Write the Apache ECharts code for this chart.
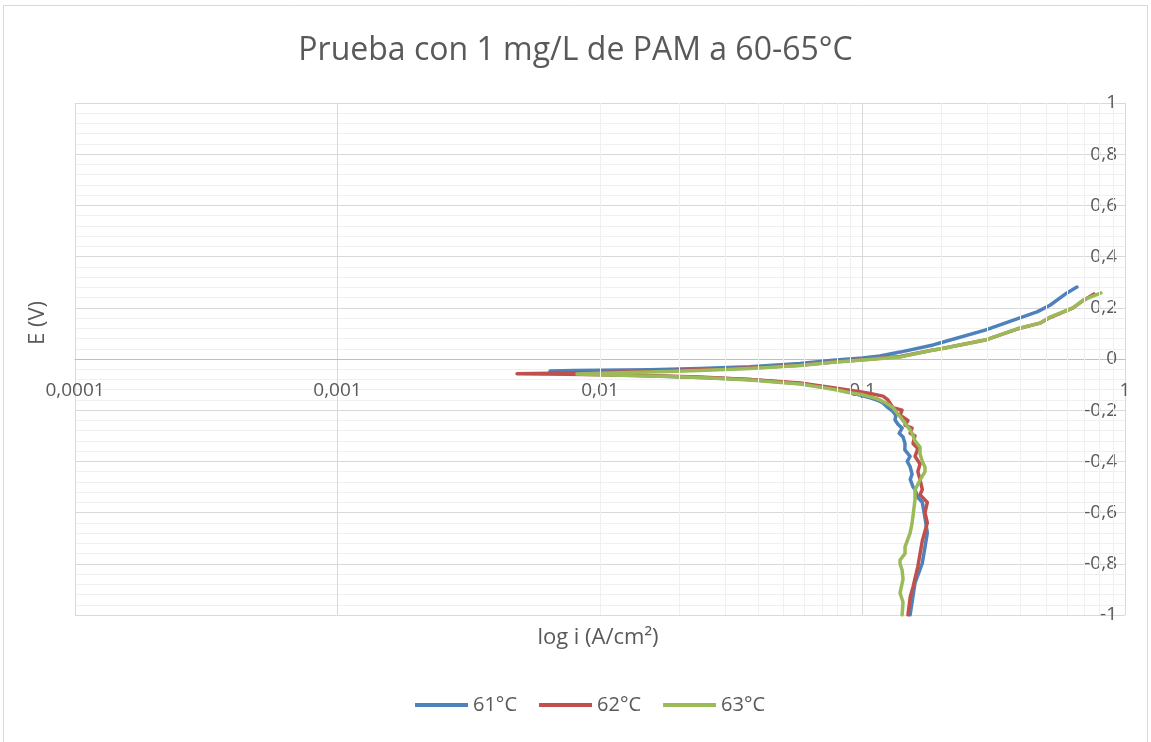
<!DOCTYPE html>
<html>
<head>
<meta charset="utf-8">
<title>Prueba con 1 mg/L de PAM</title>
<style>
    * { margin: 0; padding: 0; }
    #main { width: 1151px; height: 742px; background: #fff; }
</style>
</head>
<body>
<div id="main"></div>
<script src="https://cdn.jsdelivr.net/npm/echarts@6/dist/echarts.min.js"></script>
<script>
    // [i (A/cm2), E (V)], from E = -1 up through Ecorr to the anodic end
    var s61 = [
        [0.1518, -1.0], [0.1545, -0.95], [0.1585, -0.875], [0.169, -0.797], [0.1766, -0.68],
        [0.173, -0.62], [0.169, -0.56], [0.1625, -0.54], [0.1585, -0.51], [0.1558, -0.5],
        [0.152, -0.47], [0.1545, -0.45], [0.1518, -0.42], [0.148, -0.40], [0.1518, -0.38],
        [0.145, -0.355], [0.1452, -0.33], [0.1427, -0.305], [0.138, -0.29], [0.1415, -0.27],
        [0.1365, -0.255], [0.133, -0.238], [0.134, -0.22], [0.1306, -0.205], [0.125, -0.19],
        [0.1197, -0.172], [0.1135, -0.16], [0.107, -0.152], [0.0977, -0.141], [0.0895, -0.13],
        [0.0773, -0.115], [0.0578, -0.096], [0.0485, -0.09], [0.0372, -0.08], [0.024, -0.072],
        [0.0155, -0.065], [0.010, -0.058], [0.0075, -0.052], [0.00645, -0.047], [0.008, -0.045],
        [0.0155, -0.042], [0.024, -0.037], [0.0372, -0.030], [0.0578, -0.018], [0.0773, -0.005],
        [0.1, 0.004], [0.1165, 0.012], [0.139, 0.027], [0.1858, 0.055], [0.197, 0.0625],
        [0.293, 0.113], [0.462, 0.184], [0.518, 0.21], [0.601, 0.258], [0.656, 0.281]
    ];
    var s62 = [
        [0.149, -1.0], [0.152, -0.93], [0.1558, -0.89], [0.1625, -0.81], [0.169, -0.71],
        [0.1766, -0.64], [0.173, -0.6], [0.1766, -0.56], [0.1656, -0.53], [0.169, -0.51],
        [0.1656, -0.47], [0.1625, -0.44], [0.1656, -0.41], [0.1585, -0.38], [0.1625, -0.35],
        [0.1558, -0.33], [0.1585, -0.30], [0.1518, -0.29], [0.1545, -0.27], [0.1452, -0.258],
        [0.149, -0.24], [0.139, -0.22], [0.1415, -0.2], [0.1306, -0.19], [0.125, -0.16],
        [0.1197, -0.145], [0.107, -0.135], [0.0977, -0.128], [0.0773, -0.112], [0.0578, -0.094],
        [0.0372, -0.08], [0.024, -0.07], [0.0155, -0.065], [0.010, -0.062], [0.0075, -0.06],
        [0.00483, -0.058], [0.0065, -0.056], [0.010, -0.053], [0.0155, -0.048], [0.024, -0.042],
        [0.0372, -0.035], [0.0578, -0.024], [0.0773, -0.012], [0.1, -0.003], [0.139, 0.01],
        [0.1858, 0.035], [0.197, 0.039], [0.293, 0.074], [0.388, 0.117], [0.474, 0.14],
        [0.518, 0.162], [0.634, 0.2], [0.692, 0.228], [0.762, 0.254]
    ];
    var s63 = [
        [0.1415, -1.0], [0.1427, -0.95], [0.139, -0.914], [0.1427, -0.86], [0.1415, -0.824],
        [0.139, -0.80], [0.139, -0.785], [0.1452, -0.76], [0.1452, -0.734], [0.1518, -0.68],
        [0.1545, -0.641], [0.1585, -0.55], [0.1585, -0.51], [0.1625, -0.49], [0.1656, -0.473],
        [0.173, -0.44], [0.173, -0.422], [0.169, -0.40], [0.1656, -0.37], [0.1656, -0.344],
        [0.1585, -0.32], [0.1545, -0.29], [0.1518, -0.277], [0.145, -0.25], [0.139, -0.225],
        [0.1306, -0.19], [0.123, -0.172], [0.1135, -0.155], [0.1, -0.14], [0.0895, -0.132],
        [0.0773, -0.118], [0.0578, -0.098], [0.0372, -0.082], [0.024, -0.072], [0.0155, -0.066],
        [0.010, -0.062], [0.00817, -0.059], [0.010, -0.056], [0.0155, -0.051], [0.024, -0.045],
        [0.0372, -0.037], [0.0578, -0.025], [0.0773, -0.013], [0.1, -0.004], [0.139, 0.008],
        [0.1858, 0.035], [0.197, 0.039], [0.293, 0.074], [0.388, 0.118], [0.474, 0.14],
        [0.518, 0.164], [0.634, 0.2], [0.692, 0.23], [0.81, 0.258]
    ];
    var seriesNames = ['61°C', '62°C', '63°C'];
    var seriesColors = ['#4F81BD', '#C0504D', '#9BBB59'];
    var xTickLabels = ['0,0001', '0,001', '0,01', '0,1', '1'];

    var textColor = '#595959';
    var font = '"Open Sans", "Noto Sans", sans-serif';

    // minor vertical grid lines at 2..9 of each decade (log axis)
    var minorX = [];
    for (var d = -4; d < 0; d++) {
        for (var k = 2; k <= 9; k++) {
            minorX.push({ xAxis: k * Math.pow(10, d) });
        }
    }

    var myChart = echarts.init(document.getElementById('main'));
    var option = {
        animation: false,
        textStyle: { fontFamily: font },
        title: {
            text: 'Prueba con 1 mg/L de PAM a 60-65°C',
            left: 'center',
            top: 30,
            textStyle: { fontFamily: font, fontSize: 32, fontWeight: 'normal', color: textColor }
        },
        legend: {
            data: seriesNames,
            bottom: 22,
            left: 410,
            icon: 'rect',
            itemWidth: 53,
            itemHeight: 4,
            itemGap: 22,
            textStyle: { fontFamily: font, fontSize: 20, color: textColor }
        },
        grid: { left: 75, right: 26, top: 103, bottom: 127 },
        xAxis: {
            type: 'log',
            logBase: 10,
            min: 0.0001,
            max: 1,
            // axis sits on E = 0 (half of the plot height above the bottom edge)
            offset: -256,
            axisLine: { onZero: false, lineStyle: { color: '#bfbfbf', width: 1 } },
            axisTick: { show: false },
            axisLabel: {
                margin: 22,
                fontSize: 19,
                color: textColor,
                showMinLabel: true,
                showMaxLabel: true,
                formatter: function (v) {
                    return xTickLabels[Math.round(Math.log10(v)) + 4];
                }
            },
            splitLine: { show: true, lineStyle: { color: '#d9d9d9', width: 1 } }
        },
        yAxis: {
            type: 'value',
            position: 'right',
            min: -1,
            max: 1,
            interval: 0.2,
            axisLine: { show: false },
            axisTick: { show: false },
            axisLabel: {
                inside: true,
                margin: 8,
                fontSize: 19,
                color: textColor,
                formatter: function (v) {
                    return String(Math.round(v * 10) / 10).replace('.', ',');
                }
            },
            splitLine: { show: true, lineStyle: { color: '#d9d9d9', width: 1 } },
            minorTick: { show: false, splitNumber: 5 },
            minorSplitLine: { show: true, lineStyle: { color: '#f0f0f0', width: 1 } }
        },
        graphic: [
            {
                type: 'rect',
                shape: { x: 3.5, y: 5.5, width: 1144, height: 745 },
                style: { fill: 'none', stroke: '#d9d9d9', lineWidth: 1 },
                silent: true
            },
            {
                type: 'text',
                x: 598,
                y: 638,
                style: {
                    text: 'log i (A/cm²)',
                    fontFamily: font, fontSize: 22, fill: textColor,
                    align: 'center', verticalAlign: 'middle'
                }
            },
            {
                type: 'text',
                x: 38,
                y: 323,
                rotation: Math.PI / 2,
                style: {
                    text: 'E (V)',
                    fontFamily: font, fontSize: 22, fill: textColor,
                    align: 'center', verticalAlign: 'middle'
                }
            }
        ],
        series: [
            {
                name: 'minor',
                type: 'line',
                data: [],
                z: 1,
                silent: true,
                markLine: {
                    silent: true,
                    symbol: 'none',
                    label: { show: false },
                    lineStyle: { color: '#f0f0f0', type: 'solid', width: 1 },
                    data: minorX
                }
            }
        ]
    };
    for (var s = 0; s < 3; s++) {
        option.series.push({
            name: seriesNames[s],
            type: 'line',
            data: [s61, s62, s63][s],
            showSymbol: false,
            symbol: 'none',
            color: seriesColors[s],
            lineStyle: { width: 3.5, color: seriesColors[s], cap: 'round', join: 'round' }
        });
    }
    myChart.setOption(option);
</script>
</body>
</html>
